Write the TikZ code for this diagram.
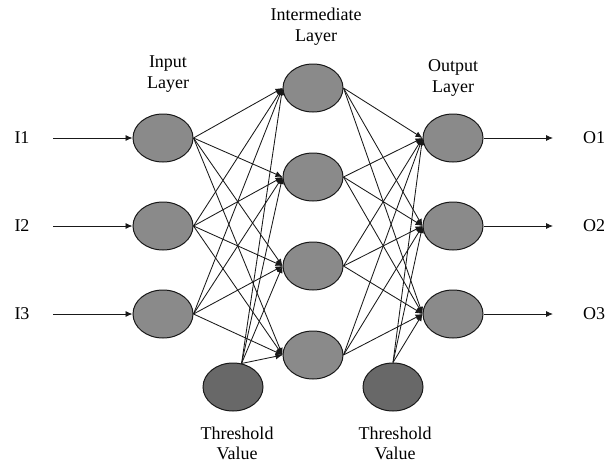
\documentclass[tikz,border=0pt]{standalone}
\usepackage{fontspec}
\setmainfont{Liberation Serif}
\usetikzlibrary{shapes.geometric,arrows.meta}
\definecolor{nodefill}{RGB}{138,138,138}
\definecolor{thrfill}{RGB}{104,104,104}
\definecolor{edgecol}{RGB}{25,25,25}
\tikzset{
  neuron/.style={ellipse,draw=edgecol,line width=1pt,fill=nodefill,minimum width=60pt,minimum height=48pt,inner sep=0pt},
  thresh/.style={neuron,fill=thrfill},
  lbl/.style={font=\fontsize{18}{21}\selectfont,align=center,inner sep=0pt},
  conn/.style={draw=edgecol,line width=0.85pt,-{Latex[length=7pt,width=6pt]}}
}
\begin{document}
\begin{tikzpicture}[x=1pt,y=-1pt]
\useasboundingbox (0,0) rectangle (612,466);
% nodes
\node[neuron] (i1) at (163,138) {};
\node[neuron] (i2) at (163,226) {};
\node[neuron] (i3) at (163,314) {};
\node[neuron] (h1) at (313,88) {};
\node[neuron] (h2) at (313,177) {};
\node[neuron] (h3) at (313,266) {};
\node[neuron] (h4) at (313,355) {};
\node[neuron] (o1) at (453,138) {};
\node[neuron] (o2) at (453,226) {};
\node[neuron] (o3) at (453,314) {};
\node[thresh] (t1) at (233,387) {};
\node[thresh] (t2) at (393,387) {};
% labels
\node[lbl] (li1) at (22,138) {I1};
\node[lbl] (li2) at (22,226) {I2};
\node[lbl] (li3) at (22,314) {I3};
\node[lbl] (lo1) at (594,138) {O1};
\node[lbl] (lo2) at (594,226) {O2};
\node[lbl] (lo3) at (594,314) {O3};
\node[lbl] (linput) at (168,74) {Input\\Layer};
\node[lbl] (lhid) at (316,27) {Intermediate\\Layer};
\node[lbl] (lout) at (453,78) {Output\\Layer};
\node[lbl,font=\fontsize{18}{20}\selectfont] (lt1) at (237,443) {Threshold\\Value};
\node[lbl,font=\fontsize{18}{20}\selectfont] (lt2) at (395,443) {Threshold\\Value};
% input and output arrows
\coordinate (a1) at (53,138);
\coordinate (a2) at (53,226);
\coordinate (a3) at (53,314);
\coordinate (b1) at (553,138);
\coordinate (b2) at (553,226);
\coordinate (b3) at (553,314);
\foreach \k in {1,2,3}{
  \draw[conn] (a\k) -- (i\k.west);
  \draw[conn] (o\k.east) -- (b\k);
}
% input -> hidden
\foreach \i in {1,2,3}{
  \foreach \h in {1,2,3,4}{
    \draw[conn] (i\i.east) -- (h\h.west);
  }
}
\foreach \h in {1,2,3,4}{
  \draw[conn] (t1.70) -- (h\h.west);
}
% hidden -> output
\foreach \h in {1,2,3,4}{
  \foreach \o in {1,2,3}{
    \draw[conn] (h\h.east) -- (o\o.west);
  }
}
\foreach \o in {1,2,3}{
  \draw[conn] (t2.north) -- (o\o.west);
}
\end{tikzpicture}
\end{document}
